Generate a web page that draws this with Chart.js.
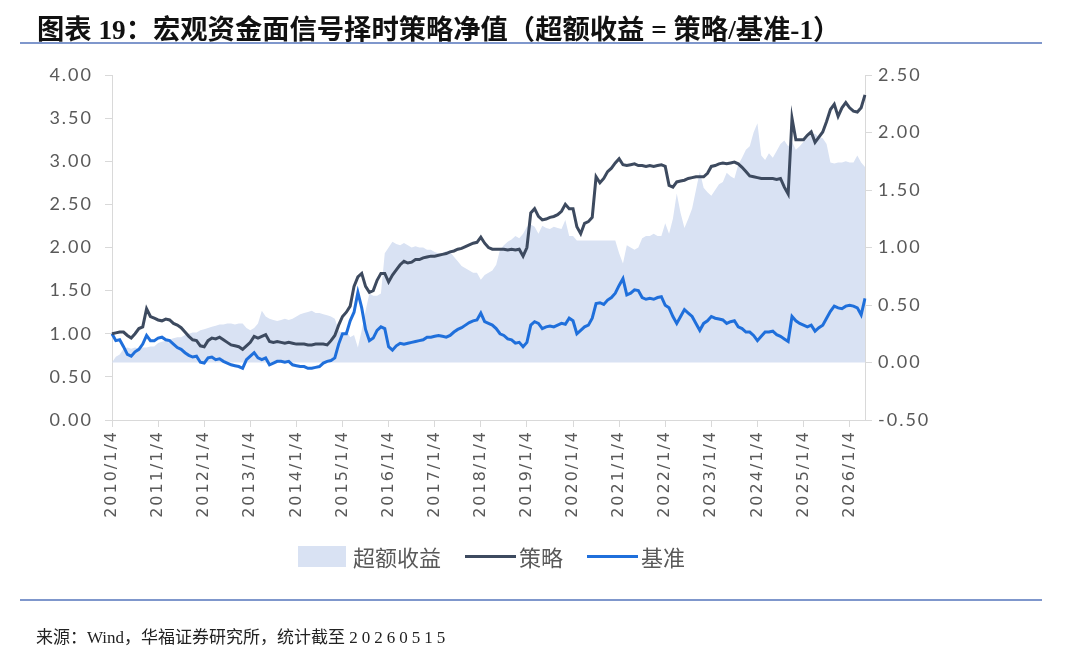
<!DOCTYPE html>
<html>
<head>
<meta charset="utf-8">
<script src="https://cdn.jsdelivr.net/npm/chart.js@4/dist/chart.umd.min.js"></script>
<style>
  html, body { margin: 0; padding: 0; background: #fff; }
  body { width: 1080px; height: 661px; position: relative; overflow: hidden; }
  #wrap { position: absolute; left: 0; top: 0; width: 1080px; height: 661px; }
  .title { position: absolute; left: 37px; top: 7px; font-family: "Liberation Serif", "Noto Sans CJK SC", serif; font-weight: bold; font-size: 27.3px; color: #111; white-space: nowrap; }
  .rule { position: absolute; left: 20px; width: 1022px; height: 2px; background: #7f97cc; }
  .source { position: absolute; left: 36px; top: 623px; font-family: "Liberation Serif", "Noto Sans CJK SC", serif; font-size: 17px; color: #222; white-space: nowrap; }
  .source .num { letter-spacing: 4px; }
  .legend { position: absolute; left: 298px; top: 540px; display: flex; align-items: center; font-family: "Noto Sans CJK SC", sans-serif; font-size: 22px; color: #595959; white-space: nowrap; }
  .legend .box { width: 48px; height: 21px; background: #d9e2f3; margin-right: 7px; }
  .legend .ln { width: 51px; height: 3px; margin-right: 3px; }
  .legend .gap { width: 24px; }
</style>
</head>
<body>
<div id="wrap"><canvas id="navChart" width="1080" height="661"></canvas></div>
<div class="title">图表 19：宏观资金面信号择时策略净值（超额收益 = 策略/基准-1）</div>
<div class="rule" style="top:42px"></div>
<div class="legend">
  <span class="box"></span><span>超额收益</span><span class="gap"></span>
  <span class="ln" style="background:#3d4a5f"></span><span>策略</span><span class="gap"></span>
  <span class="ln" style="background:#1f6fdb"></span><span>基准</span>
</div>
<div class="rule" style="top:599px"></div>
<div class="source">来源：Wind，华福证券研究所，统计截至 <span class="num">20260515</span></div>
<script>
// monthly samples, 2010/01 .. 2026/05
const firstYear = 2010;
const lastYear = 2026;
const lastMonth = 5;
const tickLabels = ["2010/1/4", "2011/1/4", "2012/1/4", "2013/1/4", "2014/1/4", "2015/1/4", "2016/1/4", "2017/1/4", "2018/1/4",
  "2019/1/4", "2020/1/4", "2021/1/4", "2022/1/4", "2023/1/4", "2024/1/4", "2025/1/4", "2026/1/4"];

const strategy = [
  1.00, 1.01, 1.02, 1.02, 0.98, 0.95, 1.00, 1.06, 1.08, 1.29, 1.20, 1.18, // 2010
  1.16, 1.15, 1.17, 1.16, 1.12, 1.10, 1.07, 1.02, 0.97, 0.93, 0.92, 0.86, // 2011
  0.85, 0.92, 0.95, 0.94, 0.96, 0.93, 0.90, 0.87, 0.86, 0.85, 0.82, 0.86, // 2012
  0.90, 0.97, 0.95, 0.97, 0.99, 0.91, 0.90, 0.91, 0.90, 0.89, 0.90, 0.89, // 2013
  0.88, 0.88, 0.88, 0.87, 0.87, 0.88, 0.88, 0.88, 0.87, 0.92, 0.98, 1.10, // 2014
  1.20, 1.25, 1.32, 1.55, 1.66, 1.70, 1.55, 1.48, 1.50, 1.62, 1.70, 1.70, // 2015
  1.60, 1.68, 1.74, 1.80, 1.84, 1.82, 1.83, 1.86, 1.86, 1.88, 1.89, 1.90, // 2016
  1.90, 1.91, 1.92, 1.93, 1.95, 1.96, 1.98, 1.99, 2.01, 2.03, 2.05, 2.06, // 2017
  2.12, 2.05, 2.00, 1.98, 1.98, 1.98, 1.98, 1.97, 1.98, 1.97, 1.98, 1.90, // 2018
  2.00, 2.40, 2.45, 2.36, 2.32, 2.33, 2.35, 2.36, 2.38, 2.42, 2.50, 2.45, // 2019
  2.45, 2.24, 2.16, 2.28, 2.30, 2.35, 2.82, 2.75, 2.80, 2.88, 2.92, 2.98, // 2020
  3.03, 2.96, 2.95, 2.96, 2.97, 2.95, 2.95, 2.94, 2.95, 2.94, 2.95, 2.96, // 2021
  2.94, 2.72, 2.70, 2.76, 2.77, 2.78, 2.80, 2.81, 2.82, 2.82, 2.82, 2.86, // 2022
  2.94, 2.95, 2.97, 2.98, 2.97, 2.98, 2.99, 2.97, 2.93, 2.88, 2.83, 2.82, // 2023
  2.81, 2.80, 2.80, 2.80, 2.80, 2.79, 2.80, 2.70, 2.62, 3.50, 3.25, 3.25, // 2024
  3.25, 3.30, 3.34, 3.22, 3.28, 3.34, 3.46, 3.60, 3.66, 3.52, 3.62, 3.68, // 2025
  3.62, 3.58, 3.57, 3.62, 3.77                                            // 2026
];

const benchmark = [
  1.00, 0.92, 0.93, 0.85, 0.76, 0.74, 0.79, 0.82, 0.88, 0.98, 0.92, 0.92, // 2010
  0.95, 0.96, 0.93, 0.92, 0.88, 0.84, 0.82, 0.78, 0.75, 0.73, 0.74, 0.67, // 2011
  0.66, 0.72, 0.73, 0.70, 0.71, 0.68, 0.66, 0.64, 0.63, 0.62, 0.60, 0.70, // 2012
  0.74, 0.78, 0.72, 0.70, 0.72, 0.64, 0.66, 0.68, 0.68, 0.67, 0.68, 0.64, // 2013
  0.63, 0.62, 0.62, 0.60, 0.60, 0.61, 0.62, 0.66, 0.68, 0.69, 0.72, 0.88, // 2014
  1.00, 1.00, 1.15, 1.25, 1.48, 1.30, 1.05, 0.92, 0.95, 1.04, 1.08, 1.06, // 2015
  0.85, 0.81, 0.86, 0.89, 0.88, 0.89, 0.90, 0.91, 0.92, 0.93, 0.96, 0.96, // 2016
  0.97, 0.98, 0.97, 0.96, 0.98, 1.02, 1.05, 1.07, 1.10, 1.13, 1.15, 1.16, // 2017
  1.24, 1.14, 1.12, 1.10, 1.06, 1.00, 0.98, 0.94, 0.93, 0.89, 0.90, 0.85, // 2018
  0.90, 1.10, 1.14, 1.12, 1.06, 1.08, 1.09, 1.08, 1.10, 1.12, 1.11, 1.18, // 2019
  1.15, 1.00, 1.04, 1.08, 1.10, 1.18, 1.35, 1.36, 1.34, 1.39, 1.42, 1.47, // 2020
  1.56, 1.64, 1.45, 1.47, 1.51, 1.50, 1.42, 1.40, 1.41, 1.40, 1.42, 1.43, // 2021
  1.33, 1.30, 1.20, 1.12, 1.20, 1.28, 1.24, 1.20, 1.12, 1.04, 1.12, 1.15, // 2022
  1.20, 1.18, 1.17, 1.16, 1.12, 1.14, 1.15, 1.08, 1.06, 1.02, 1.02, 0.98, // 2023
  0.92, 0.97, 1.02, 1.02, 1.03, 0.99, 0.97, 0.94, 0.91, 1.20, 1.15, 1.12, // 2024
  1.10, 1.08, 1.10, 1.03, 1.07, 1.10, 1.18, 1.26, 1.32, 1.30, 1.29, 1.32, // 2025
  1.33, 1.32, 1.30, 1.22, 1.41                                            // 2026
];

const excess = [
  0.00, 0.05, 0.07, 0.12, 0.13, 0.12, 0.13, 0.12, 0.13, 0.13, 0.14, 0.14, // 2010
  0.17, 0.18, 0.19, 0.20, 0.21, 0.22, 0.22, 0.24, 0.25, 0.26, 0.26, 0.28, // 2011
  0.29, 0.30, 0.31, 0.32, 0.33, 0.33, 0.34, 0.34, 0.33, 0.34, 0.34, 0.30, // 2012
  0.28, 0.30, 0.34, 0.45, 0.40, 0.38, 0.37, 0.36, 0.37, 0.38, 0.37, 0.38, // 2013
  0.40, 0.42, 0.43, 0.44, 0.45, 0.43, 0.43, 0.42, 0.41, 0.40, 0.38, 0.28, // 2014
  0.25, 0.28, 0.22, 0.24, 0.13, 0.28, 0.45, 0.60, 0.58, 0.58, 0.60, 0.95, // 2015
  1.00, 1.05, 1.03, 1.02, 1.04, 1.02, 1.00, 1.01, 1.00, 1.00, 0.98, 0.98, // 2016
  0.96, 0.95, 0.95, 0.97, 0.96, 0.92, 0.88, 0.84, 0.82, 0.80, 0.78, 0.78, // 2017
  0.72, 0.76, 0.78, 0.80, 0.85, 0.98, 1.02, 1.05, 1.07, 1.10, 1.08, 1.12, // 2018
  1.18, 1.20, 1.18, 1.12, 1.19, 1.17, 1.16, 1.18, 1.17, 1.16, 1.24, 1.10, // 2019
  1.10, 1.06, 1.06, 1.06, 1.06, 1.06, 1.06, 1.06, 1.06, 1.06, 1.06, 1.06, // 2020
  0.95, 0.86, 1.02, 1.00, 0.98, 1.00, 1.08, 1.10, 1.10, 1.12, 1.10, 1.10, // 2021
  1.21, 1.12, 1.25, 1.47, 1.30, 1.17, 1.25, 1.34, 1.50, 1.66, 1.52, 1.48, // 2022
  1.45, 1.50, 1.55, 1.57, 1.65, 1.62, 1.60, 1.72, 1.78, 1.85, 1.88, 2.00, // 2023
  2.08, 1.80, 1.76, 1.82, 1.78, 1.84, 1.90, 1.93, 1.88, 1.92, 1.85, 1.88, // 2024
  1.92, 1.95, 1.98, 1.99, 1.96, 1.95, 1.90, 1.74, 1.73, 1.74, 1.74, 1.75, // 2025
  1.74, 1.74, 1.80, 1.74, 1.70                                            // 2026
];

const months = [];
for (let y = firstYear; y <= lastYear; y++) {
  for (let m = 1; m <= 12; m++) {
    if (y === lastYear && m > lastMonth) break;
    months.push(y + "/" + m);
  }
}

const gridGray = "#d9d9d9";
const tickFont = { family: "Lato, 'Noto Sans', sans-serif", size: 18 };

// tick text in the original is set a little wide
const spacedText = {
  id: "spacedText",
  beforeDraw(chart) { chart.ctx.letterSpacing = "2px"; },
  afterDraw(chart) { chart.ctx.letterSpacing = "0px"; }
};

new Chart(document.getElementById("navChart"), {
  type: "line",
  data: {
    labels: months,
    datasets: [{
      label: "策略",
      data: strategy,
      yAxisID: "y",
      borderColor: "#3d4a5f",
      borderWidth: 3,
      pointRadius: 0,
      tension: 0,
      fill: false,
      order: 0
    }, {
      label: "基准",
      data: benchmark,
      yAxisID: "y",
      borderColor: "#1f6fdb",
      borderWidth: 3,
      pointRadius: 0,
      tension: 0,
      fill: false,
      order: 1
    }, {
      label: "超额收益",
      data: excess,
      yAxisID: "y1",
      borderWidth: 0,
      borderColor: "rgba(0,0,0,0)",
      backgroundColor: "#d9e2f3",
      pointRadius: 0,
      fill: "origin",
      order: 2
    }]
  },
  plugins: [spacedText],
  options: {
    animation: false,
    responsive: false,
    layout: { padding: { left: 0, right: 0, top: 75, bottom: 0 } },
    plugins: { legend: { display: false }, tooltip: { enabled: false } },
    scales: {
      x: {
        type: "category",
        offset: false,
        grid: { drawOnChartArea: false, color: gridGray, tickLength: 7 },
        border: { color: gridGray },
        afterBuildTicks: (scale) => {
          scale.ticks = scale.ticks.filter(t => months[t.value].endsWith("/1"));
        },
        afterFit: (scale) => { scale.height = 661 - 420; },
        ticks: {
          autoSkip: false,
          maxRotation: 90,
          minRotation: 90,
          padding: 3,
          color: "#595959",
          font: { family: "'DejaVu Sans', sans-serif", size: 16 },
          callback: function (value) {
            const y = months[value].split("/")[0];
            return tickLabels.find(l => l.startsWith(y));
          }
        }
      },
      y: {
        position: "left",
        min: 0,
        max: 4,
        grid: { drawOnChartArea: false, color: gridGray, tickLength: 7 },
        border: { color: gridGray },
        afterFit: (scale) => { scale.width = 112; },
        ticks: { stepSize: 0.5, padding: 12, color: "#595959", font: tickFont, callback: v => v.toFixed(2) }
      },
      y1: {
        position: "right",
        min: -0.5,
        max: 2.5,
        grid: { drawOnChartArea: false, color: gridGray, tickLength: 7 },
        border: { color: gridGray },
        afterFit: (scale) => { scale.width = 1080 - 865; },
        ticks: { stepSize: 0.5, padding: 6, color: "#595959", font: tickFont, callback: v => v.toFixed(2) }
      }
    }
  }
});
</script>
</body>
</html>
